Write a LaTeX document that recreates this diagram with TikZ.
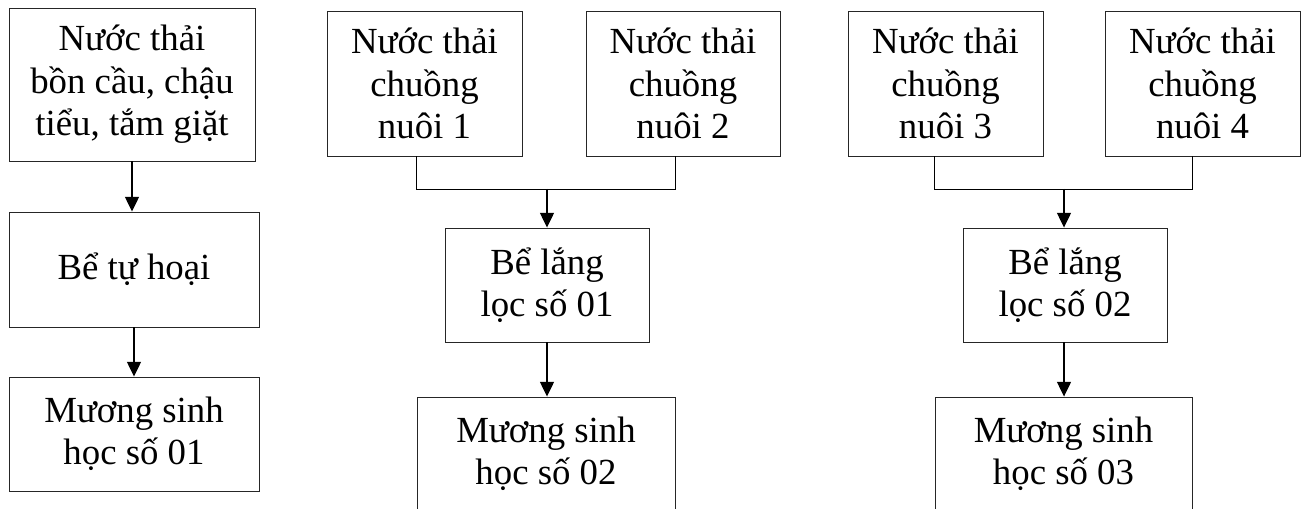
\documentclass[tikz,border=0pt]{standalone}
\usepackage{fontspec}
\setmainfont{Liberation Serif}
\usetikzlibrary{arrows.meta,calc}
\begin{document}
\begin{tikzpicture}[x=0.75pt,y=-0.75pt,
  box/.style={draw=black!85,line width=0.7pt,inner sep=0pt,align=center,
    font=\fontsize{27.6}{31.9}\selectfont},
  conn/.style={line width=0.9pt},
  arr/.style={line width=0.9pt,-{Triangle[length=11pt,width=10.5pt]}}]
\useasboundingbox (0,0) rectangle (1306,509);
\clip (0,0) rectangle (1306,509);
% column 1
\node[box,minimum width=184.5pt,minimum height=114.75pt] (A) at (132,84.5) {Nước thải\\bồn cầu, chậu\\tiểu, tắm giặt};
\node[box,minimum width=187.5pt,minimum height=86.25pt] (B) at (134,269.5) {Bể tự hoại};
\node[box,minimum width=187.5pt,minimum height=85.5pt] (C) at (134,434) {Mương sinh\\học số 01};
\draw[arr] (A.south) -- (A.south |- B.north);
\draw[arr] (B.south) -- (C.north);
% column 2
\node[box,minimum width=146.25pt,minimum height=108.75pt] (n1) at (424.5,83.5) {Nước thải\\chuồng\\nuôi 1};
\node[box,minimum width=145.5pt,minimum height=108.75pt] (n2) at (683,83.5) {Nước thải\\chuồng\\nuôi 2};
\node[box,minimum width=153pt,minimum height=85.5pt] (L1) at (547,285) {Bể lắng\\lọc số 01};
\node[box,minimum width=193.5pt,minimum height=85.5pt] (M2) at (546,454) {Mương sinh\\học số 02};
\coordinate (j1) at (547,189);
\draw[conn] (n1.south -| M2.north west) -- ++(0,33) -| (n2.south -| M2.north east);
\draw[arr] (j1) -- (L1.north);
\draw[arr] (L1.south) -- (L1.south |- M2.north);
% column 3
\node[box,minimum width=146.25pt,minimum height=108.75pt] (n3) at (945.5,83.5) {Nước thải\\chuồng\\nuôi 3};
\node[box,minimum width=146.25pt,minimum height=108.75pt] (n4) at (1202.5,83.5) {Nước thải\\chuồng\\nuôi 4};
\node[box,minimum width=153pt,minimum height=85.5pt] (L2) at (1065,285) {Bể lắng\\lọc số 02};
\node[box,minimum width=192.75pt,minimum height=85.5pt] (M3) at (1063.5,454) {Mương sinh\\học số 03};
\coordinate (j2) at (1064,189);
\draw[conn] (n3.south -| M3.north west) -- ++(0,33) -| (n4.south -| M3.north east);
\draw[arr] (j2) -- (j2 |- L2.north);
\draw[arr] (j2 |- L2.south) -- (j2 |- M3.north);
\end{tikzpicture}
\end{document}
